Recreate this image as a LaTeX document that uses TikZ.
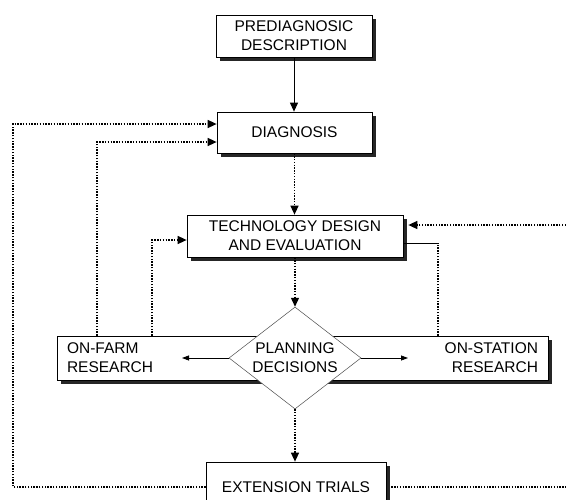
\documentclass[tikz,border=0pt]{standalone}
\usepackage{fontspec}
\setmainfont{Liberation Sans}
\usetikzlibrary{shadows,shapes.geometric,arrows.meta}
\begin{document}
\begin{tikzpicture}[x=1pt,y=-1pt,
  box/.style={draw=black, line width=0.7pt, fill=white, inner sep=0pt, align=center,
    font=\fontsize{15.5}{19}\selectfont,
    drop shadow={shadow xshift=4pt, shadow yshift=-4pt, fill=black!85, opacity=1}},
  dots/.style={line width=1.4pt, dash pattern=on 1.4pt off 1.4pt},
  tip/.style={-{Triangle[length=9pt,width=8pt]}},
  smalltip/.style={line width=0.8pt, -{Triangle[length=7pt,width=5pt]}},
]
\useasboundingbox (0,0) rectangle (566,499);
\node[box, minimum width=156pt, minimum height=42pt] (pre) at (294,36) {PREDIAGNOSIC\\DESCRIPTION};
\node[box, minimum width=155pt, minimum height=41pt] (diag) at (294.5,132.5) {DIAGNOSIS};
\node[box, minimum width=216pt, minimum height=42pt] (tech) at (295,236) {TECHNOLOGY DESIGN\\AND EVALUATION};
\node[box, minimum width=239pt, minimum height=44pt, text width=219pt, align=left] (farm) at (176.5,358) {ON-FARM\\RESEARCH};
\node[box, minimum width=252pt, minimum height=44pt, text width=232pt, align=right] (station) at (422,358) {ON-STATION\\RESEARCH};
\node[diamond, aspect=1.3, draw=black!70, fill=white, line width=0.5pt, minimum width=132pt, minimum height=102pt, inner sep=0pt, align=center, font=\fontsize{15.5}{19}\selectfont] (plan) at (295,358) {PLANNING\\DECISIONS};
\node[box, minimum width=180pt, minimum height=50pt] (ext) at (296,487) {EXTENSION TRIALS};

\coordinate (rin) at (566,225);
\coordinate (rout) at (566,487);
\coordinate (fl) at (182,358);
\coordinate (sl) at (408,358);
\coordinate (c1) at (13,124);
\coordinate (c2) at (13,487);
\coordinate (c3) at (97,142);
\coordinate (c4) at (152,240);
\coordinate (c5) at (438,243);

\draw[line width=1pt, tip] (pre.south) -- (pre.south |- diag.north);
\draw[dots, tip] (diag.south) -- (diag.south |- tech.north);
\draw[dots, tip] (tech.south) -- (plan.north);
\draw[dots, tip] (plan.south) -- (plan.south |- ext.north);
\draw[smalltip] (plan.west) -- (fl);
\draw[smalltip] (plan.east) -- (sl);
\draw[dots, tip] (farm.north -| c4) -- (c4) -- (c4 -| tech.west);
\draw[dots, tip] (farm.north -| c3) -- (c3) -- (c3 -| diag.west);
\draw[dots, tip] (ext.west) -- (c2) -- (c1) -- (c1 -| diag.west);
\draw[dots] (station.north -| c5) -- (c5);
\draw[line width=0.8pt] (c5) -- (c5 -| tech.east);
\draw[dots] ([xshift=5pt]ext.east) -- (rout);
\draw[dots, tip] (rin) -- ([xshift=5pt]rin -| tech.east);
\end{tikzpicture}
\end{document}
